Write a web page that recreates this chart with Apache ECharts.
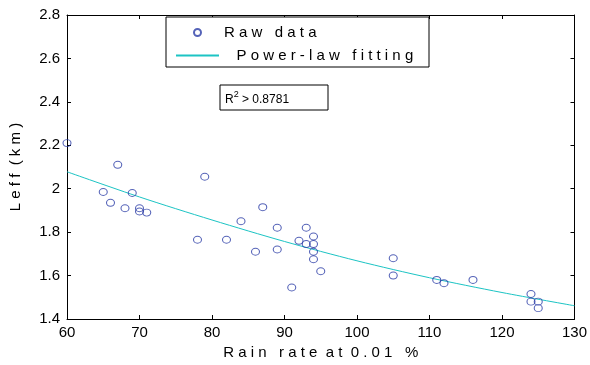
<!DOCTYPE html>
<html>
<head>
<meta charset="utf-8">
<style>
  html, body { margin: 0; padding: 0; background: #fff; }
  #chart { width: 590px; height: 365px; }
</style>
<script src="https://cdn.jsdelivr.net/npm/echarts@6/dist/echarts.min.js"></script>
</head>
<body>
<div id="chart"></div>
<script>
// measured points (rain rate at 0.01 %, effective path length in km)
const rainRate = [60, 65, 66, 67, 68, 69, 70, 70, 71, 78, 79, 82, 84, 86, 87, 89, 89, 91, 92,
  93, 93, 94, 94, 94, 94, 95, 105, 105, 111, 112, 116, 124, 124, 125, 125];
const leff = [2.21, 1.985, 1.935, 2.11, 1.91, 1.98, 1.91, 1.895, 1.89, 1.765, 2.055, 1.765, 1.85,
  1.71, 1.915, 1.82, 1.72, 1.545, 1.76, 1.82, 1.745, 1.78, 1.745, 1.71, 1.675, 1.62, 1.68, 1.6,
  1.58, 1.565, 1.58, 1.515, 1.48, 1.48, 1.45];

// power-law curve
const fitX = [60, 70, 80, 90, 100, 110, 120, 130];
const fitY = [2.078, 1.962, 1.856, 1.757, 1.668, 1.59, 1.522, 1.461];

const xTicks = { min: 60, max: 130, step: 10 };
const yTicks = { min: 1.4, max: 2.8, step: 0.2 };
const r2Text = '0.8781';

const FONT = 'Liberation Sans, Arial, sans-serif';
// the original text is drawn with wide letter spacing
const spaced = (s) => s.split('').join(' ');

const myChart = echarts.init(document.getElementById('chart'));

const axisCommon = {
  type: 'value',
  axisLine: { show: true, onZero: false, lineStyle: { color: '#000', width: 1 } },
  axisTick: { show: true, inside: true, length: 4, lineStyle: { color: '#000' } },
  splitLine: { show: false }
};

const option = {
  backgroundColor: '#fff',
  animation: false,
  grid: { left: 67, right: 15, top: 15, bottom: 45 },
  xAxis: [
    Object.assign({}, axisCommon, {
      min: xTicks.min, max: xTicks.max, interval: xTicks.step,
      position: 'bottom',
      axisLabel: { color: '#000', fontSize: 15, fontFamily: FONT, margin: 6 },
      name: 'R a i n   r a t e  a t  0 . 0 1   %',
      nameLocation: 'middle',
      nameGap: 26,
      nameTextStyle: { color: '#000', fontSize: 15, fontFamily: FONT }
    }),
    Object.assign({}, axisCommon, {
      min: xTicks.min, max: xTicks.max, interval: xTicks.step,
      position: 'top',
      axisLabel: { show: false }
    })
  ],
  yAxis: [
    Object.assign({}, axisCommon, {
      min: yTicks.min, max: yTicks.max, interval: yTicks.step,
      position: 'left',
      axisLabel: {
        color: '#000', fontSize: 15, fontFamily: FONT, margin: 7,
        formatter: (v) => String(Number(v.toFixed(1)))
      },
      name: 'L e f f  ( k m )',
      nameLocation: 'middle',
      nameGap: 44,
      nameTextStyle: { color: '#000', fontSize: 15, fontFamily: FONT }
    }),
    Object.assign({}, axisCommon, {
      min: yTicks.min, max: yTicks.max, interval: yTicks.step,
      position: 'right',
      axisLabel: { show: false }
    })
  ],
  legend: {
    orient: 'vertical',
    left: 175,
    top: 25,
    padding: 0,
    itemWidth: 43,
    itemHeight: 7,
    itemGap: 8,
    z: 10,
    textStyle: { color: '#000', fontSize: 15, fontFamily: FONT },
    formatter: (name) => (name === 'Raw data' ? spaced(name) : '   ' + spaced(name)),
    data: [
      { name: 'Raw data' },
      { name: 'Power-law fitting', itemStyle: { opacity: 0 } }
    ]
  },
  graphic: [
    {
      type: 'rect',
      z: 5,
      shape: { x: 166, y: 17, width: 263, height: 50 },
      style: { fill: '#fff', stroke: '#000', lineWidth: 1 }
    },
    {
      type: 'rect',
      z: 5,
      shape: { x: 220, y: 85, width: 108, height: 25 },
      style: { fill: '#fff', stroke: '#000', lineWidth: 1 }
    },
    {
      type: 'text',
      z: 6,
      x: 225,
      y: 98,
      style: {
        text: '{a|R}{s|2}{a| > ' + r2Text + '}',
        verticalAlign: 'middle',
        rich: {
          a: { fontSize: 12, fontFamily: FONT, fill: '#000', verticalAlign: 'bottom', lineHeight: 16 },
          s: { fontSize: 9, fontFamily: FONT, fill: '#000', verticalAlign: 'top', lineHeight: 16 }
        }
      }
    }
  ],
  series: [
    {
      name: 'Raw data',
      type: 'scatter',
      symbol: 'circle',
      symbolSize: [8, 7],
      itemStyle: { color: 'rgba(0,0,0,0)', borderColor: '#2b3ca6', borderWidth: 1 },
      data: rainRate.map((x, i) => [x, leff[i]]),
      z: 3
    },
    {
      name: 'Power-law fitting',
      type: 'line',
      smooth: 0.3,
      showSymbol: false,
      symbol: 'none',
      lineStyle: { color: '#1cc4c4', width: 1 },
      itemStyle: { color: 'rgba(0,0,0,0)', opacity: 0 },
      data: fitX.map((x, i) => [x, fitY[i]]),
      z: 2
    }
  ]
};

myChart.setOption(option);
</script>
</body>
</html>
